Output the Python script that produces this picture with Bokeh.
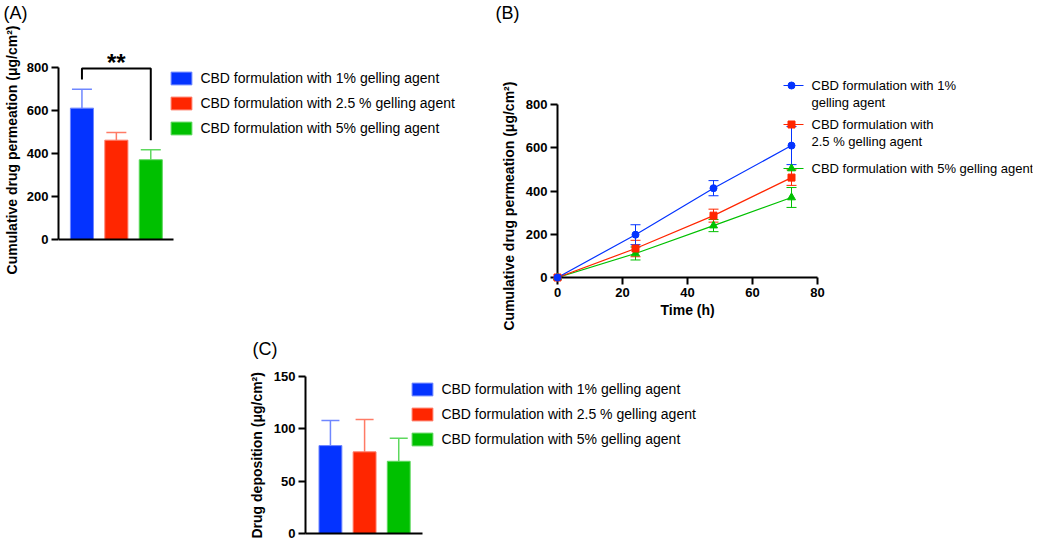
from bokeh.plotting import figure
from bokeh.models import (Range1d, FixedTicker, Legend, LegendItem, Whisker, TeeHead,
                          ColumnDataSource, Label, Spacer, Title)
from bokeh.layouts import row, column
from bokeh.embed import file_html
from bokeh.resources import INLINE

FONT = "Liberation Sans"

# ---------------- data ----------------
series_labels = ["CBD formulation with 1% gelling agent",
                 "CBD formulation with 2.5 % gelling agent",
                 "CBD formulation with 5% gelling agent"]
bar_colors = ["#0433FF", "#FF2600", "#00C000"]
edge_colors = ["#6F87FF", "#FF7B66", "#5ED85E"]
bar_positions = [1, 2, 3]

# (A) cumulative permeation at 72 h
perm_mean = [611, 462, 371]
perm_sd = [88, 36, 46]
perm_ticks = [0, 200, 400, 600, 800]
sig_text = "**"

# (B) permeation kinetics
time_h = [0, 24, 48, 72]
perm_t_1 = [0, 198, 413, 610]
perm_t_1_sd = [0, 46, 35, 88]
perm_t_25 = [0, 134, 286, 462]
perm_t_25_sd = [0, 38, 30, 36]
perm_t_5 = [0, 111, 240, 370]
perm_t_5_sd = [0, 30, 28, 46]
time_ticks = [0, 20, 40, 60, 80]
line_legend_labels = [["CBD formulation with 1%", "gelling agent"],
                      ["CBD formulation with", "2.5 % gelling agent"],
                      ["CBD formulation with 5% gelling agent"]]
markers = ["circle", "square", "triangle"]

# (C) drug deposition
dep_mean = [84, 78, 69]
dep_sd = [24, 31, 22]
dep_ticks = [0, 50, 100, 150]

PERM_LABEL = "Cumulative drug permeation (μg/cm²)"
TIME_LABEL = "Time (h)"
DEP_LABEL = "Drug deposition (μg/cm²)"


def style(p, title_offset):
    p.xgrid.visible = False
    p.ygrid.visible = False
    p.outline_line_color = None
    p.background_fill_color = "white"
    p.border_fill_color = "white"
    p.title.align = "left"
    p.title.offset = title_offset
    p.title.standoff = 0
    p.title.text_font = FONT
    p.title.text_font_style = "normal"
    p.title.text_font_size = "18px"
    p.title.text_color = "black"
    for ax in p.xaxis + p.yaxis:
        ax.axis_line_width = 2
        ax.axis_line_color = "black"
        ax.major_tick_line_width = 2
        ax.major_tick_line_color = "black"
        ax.major_tick_out = 7
        ax.major_tick_in = 0
        ax.minor_tick_out = 0
        ax.minor_tick_in = 0
        ax.major_label_text_font = FONT
        ax.major_label_text_font_style = "bold"
        ax.major_label_text_font_size = "13px"
        ax.major_label_text_color = "black"
        ax.major_label_standoff = 3
        ax.axis_label_text_font = FONT
        ax.axis_label_text_font_style = "bold"
        ax.axis_label_text_font_size = "14px"
        ax.axis_label_text_color = "black"


def side_title(p, text, side, offset, standoff):
    p.add_layout(Title(text=text, align="left", offset=offset, standoff=standoff,
                       text_font=FONT, text_font_style="bold", text_font_size="14px",
                       text_color="black"), side)


def bare_xaxis(p):
    p.xaxis.ticker = FixedTicker(ticks=[])
    p.xaxis.major_label_text_font_size = "0px"
    p.xaxis.major_tick_out = 0


def bar_legend(p, renderers, loc):
    leg = Legend(items=[LegendItem(label=l, renderers=[r]) for l, r in zip(series_labels, renderers)],
                 location=loc, glyph_width=26, glyph_height=16, label_height=20,
                 spacing=5, padding=0, margin=0, label_standoff=6,
                 border_line_color=None, background_fill_alpha=0,
                 label_text_font=FONT, label_text_font_size="14px", label_text_color="black")
    p.add_layout(leg)
    return leg


# ---------------- top row geometry (px) ----------------
ROW_H = 330
FRAME_TOP = 22
FRAME_BOTTOM = 277

# ---------------- (A) ----------------
A_PX = 0.215          # px per unit on the y axis
A_ZERO = 239          # y pixel of 0
A_SPACING = 34.5      # px between bars
A_LEFT = 57
A_RIGHT = 470
a_x0 = 1 - (80.5 - A_LEFT) / A_SPACING
pA = figure(width=472, height=ROW_H, title="(A)",
            x_range=Range1d(a_x0, a_x0 + (A_RIGHT - A_LEFT) / A_SPACING),
            y_range=Range1d(-(FRAME_BOTTOM - A_ZERO) / A_PX, (A_ZERO - FRAME_TOP) / A_PX),
            min_border_left=50, min_border_right=472 - A_RIGHT,
            min_border_top=FRAME_TOP, min_border_bottom=ROW_H - FRAME_BOTTOM,
            toolbar_location=None, output_backend="svg")
style(pA, 2 - A_LEFT)
bare_xaxis(pA)
pA.xaxis.fixed_location = 0
pA.xaxis.bounds = (a_x0, a_x0 + 115 / A_SPACING)
pA.yaxis.ticker = FixedTicker(ticks=perm_ticks)
pA.yaxis.bounds = (0, 800)
pA.yaxis.axis_label = PERM_LABEL
pA.yaxis.axis_label_standoff = 4

rA = []
for i in range(3):
    rA.append(pA.vbar(x=[bar_positions[i]], top=[perm_mean[i]], bottom=0, width=0.67,
                      fill_color=bar_colors[i], line_color=edge_colors[i], line_width=1))
    src = ColumnDataSource(dict(x=[bar_positions[i]], lower=[perm_mean[i]],
                                upper=[perm_mean[i] + perm_sd[i]]))
    pA.add_layout(Whisker(source=src, base="x", lower="lower", upper="upper",
                          line_color=edge_colors[i], line_width=1.5,
                          upper_head=TeeHead(size=20, line_color=edge_colors[i], line_width=1.5),
                          lower_head=None))

gap = 45
bracket_y = 795
pA.line(x=[bar_positions[0], bar_positions[0], bar_positions[2], bar_positions[2]],
        y=[perm_mean[0] + perm_sd[0] + gap, bracket_y, bracket_y, perm_mean[2] + perm_sd[2] + gap],
        line_color="black", line_width=2)
pA.add_layout(Label(x=(bar_positions[0] + bar_positions[2]) / 2, y=(A_ZERO - 48) / A_PX,
                    text=sig_text, text_align="center", text_baseline="top", text_font=FONT,
                    text_font_style="bold", text_font_size="24px", text_color="black"))
bar_legend(pA, rA, (167.4 - A_LEFT, FRAME_BOTTOM - 138))

# ---------------- (B) ----------------
B_LEFT = 557
B_RIGHT = 1032
B_PX_X = 260 / 80.0
B_PX_Y = 173 / 800.0
pB = figure(width=562, height=ROW_H, title="(B)",
            x_range=Range1d(0, (B_RIGHT - B_LEFT) / B_PX_X),
            y_range=Range1d(0, (FRAME_BOTTOM - FRAME_TOP) / B_PX_Y),
            min_border_left=B_LEFT - 472, min_border_right=472 + 562 - B_RIGHT,
            min_border_top=FRAME_TOP, min_border_bottom=ROW_H - FRAME_BOTTOM,
            toolbar_location=None, output_backend="svg")
style(pB, 495 - B_LEFT)
pB.xaxis.ticker = FixedTicker(ticks=time_ticks)
pB.xaxis.bounds = (0, 80)
pB.yaxis.ticker = FixedTicker(ticks=perm_ticks)
pB.yaxis.bounds = (0, 800)
# axis titles placed along the drawn axis extent (not the wider frame)
side_title(pB, TIME_LABEL, "below", 660 - B_LEFT, 0)
side_title(pB, PERM_LABEL, "left", FRAME_BOTTOM - 330, 12)

kin = [(perm_t_1, perm_t_1_sd), (perm_t_25, perm_t_25_sd), (perm_t_5, perm_t_5_sd)]
for i in [2, 1, 0]:
    ys, sds = kin[i]
    c = bar_colors[i]
    pB.line(time_h, ys, line_color=c, line_width=1.2)
    keep = [k for k in range(len(time_h)) if sds[k] > 0]
    src = ColumnDataSource(dict(x=[time_h[k] for k in keep],
                                lower=[ys[k] - sds[k] for k in keep],
                                upper=[ys[k] + sds[k] for k in keep]))
    pB.add_layout(Whisker(source=src, base="x", lower="lower", upper="upper",
                          line_color=c, line_width=1,
                          upper_head=TeeHead(size=10, line_color=c, line_width=1),
                          lower_head=TeeHead(size=10, line_color=c, line_width=1)))
    pB.scatter(time_h, ys, marker=markers[i], size=8 if markers[i] == "triangle" else 7,
               fill_color=c, line_color=c, level="overlay")


def bx(px):
    return (px - B_LEFT) / B_PX_X


def by(py):
    return (FRAME_BOTTOM - py) / B_PX_Y


leg_rows = [85, 124, 168]       # y pixel of each legend entry
for i in range(3):
    c = bar_colors[i]
    pB.line(x=[bx(783), bx(803)], y=[by(leg_rows[i])] * 2, line_color=c, line_width=1.2)
    pB.scatter(x=[bx(791)], y=[by(leg_rows[i])], marker=markers[i],
               size=8 if markers[i] == "triangle" else 7, fill_color=c, line_color=c)
    for j, txt in enumerate(line_legend_labels[i]):
        pB.add_layout(Label(x=bx(811), y=by(leg_rows[i] + 17 * j), text=txt,
                            text_baseline="middle", text_align="left", text_font=FONT,
                            text_font_size="13px", text_color="black"))

# ---------------- (C) ----------------
C_W = 1034 - 240
C_H = 540 - ROW_H
C_LEFT = 303
C_RIGHT = 1030
C_ZERO = 533
C_TOP = 358
C_PX = (C_ZERO - 376) / 150.0
C_SPACING = 34.25
c_x0 = 1 - (328 - C_LEFT) / C_SPACING
pC = figure(width=C_W, height=C_H, title="(C)",
            x_range=Range1d(c_x0, c_x0 + (C_RIGHT - C_LEFT) / C_SPACING),
            y_range=Range1d(0, (C_ZERO - C_TOP) / C_PX),
            min_border_left=C_LEFT - 240, min_border_right=1034 - C_RIGHT,
            min_border_top=C_TOP - ROW_H, min_border_bottom=540 - C_ZERO,
            toolbar_location=None, output_backend="svg")
style(pC, 250 - C_LEFT)
bare_xaxis(pC)
pC.xaxis.bounds = (c_x0, c_x0 + 117 / C_SPACING)
pC.yaxis.ticker = FixedTicker(ticks=dep_ticks)
pC.yaxis.bounds = (0, 150)
side_title(pC, DEP_LABEL, "left", -5, 12)
rC = []
for i in range(3):
    rC.append(pC.vbar(x=[bar_positions[i]], top=[dep_mean[i]], bottom=0, width=0.67,
                      fill_color=bar_colors[i], line_color=edge_colors[i], line_width=1))
    src = ColumnDataSource(dict(x=[bar_positions[i]], lower=[dep_mean[i]],
                                upper=[dep_mean[i] + dep_sd[i]]))
    pC.add_layout(Whisker(source=src, base="x", lower="lower", upper="upper",
                          line_color=edge_colors[i], line_width=1.5,
                          upper_head=TeeHead(size=18, line_color=edge_colors[i], line_width=1.5),
                          lower_head=None))
bar_legend(pC, rC, (407.4 - C_LEFT, C_ZERO - 449))

layout = column(row(pA, pB), row(Spacer(width=240, height=C_H), pC))
open("out.html", "w").write(file_html(layout, INLINE))
